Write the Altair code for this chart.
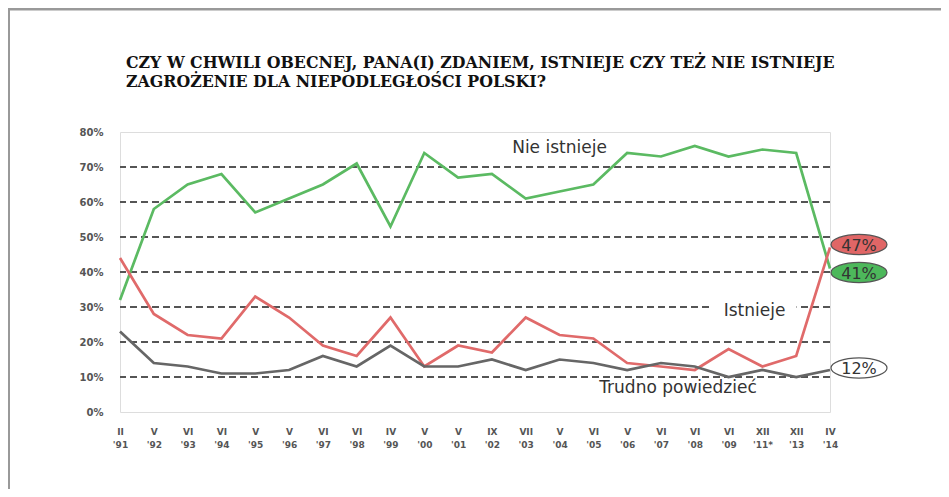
import altair as alt
import pandas as pd

months = ["II", "V", "VI", "VI", "V", "V", "VI", "VI", "IV", "V", "V", "IX",
          "VII", "V", "VI", "V", "VI", "VI", "VI", "XII", "XII", "IV"]
years = ["'91", "'92", "'93", "'94", "'95", "'96", "'97", "'98", "'99", "'00", "'01", "'02",
         "'03", "'04", "'05", "'06", "'07", "'08", "'09", "'11*", "'13", "'14"]

nie_istnieje = [32, 58, 65, 68, 57, 61, 65, 71, 53, 74, 67, 68, 61, 63, 65, 74, 73, 76, 73, 75, 74, 41]
istnieje = [44, 28, 22, 21, 33, 27, 19, 16, 27, 13, 19, 17, 27, 22, 21, 14, 13, 12, 18, 13, 16, 47]
trudno = [23, 14, 13, 11, 11, 12, 16, 13, 19, 13, 13, 15, 12, 15, 14, 12, 14, 13, 10, 12, 10, 12]

series_names = ["Nie istnieje", "Istnieje", "Trudno powiedzieć"]
series_colors = ["#5BBA62", "#E06A6A", "#666666"]
ellipse_fills = ["#4DB85B", "#E06666", "#FFFFFF"]
end_labels = ["41%", "47%", "12%"]

gridlines = [10, 20, 30, 40, 50, 60, 70]
yticks = [0, 10, 20, 30, 40, 50, 60, 70, 80]

title_lines = ["CZY W CHWILI OBECNEJ, PANA(I) ZDANIEM, ISTNIEJE CZY TEŻ NIE ISTNIEJE",
               "ZAGROŻENIE DLA NIEPODLEGŁOŚCI POLSKI?"]

# annotations: text, anchor category index, value
ann_text = ["Nie istnieje", "Istnieje", "Trudno powiedzieć"]
ann_idx = [13, 18, 16]
ann_val = [75.5, 29, 7]
ann_dx = [0, 26, 17]

keys = [f"{m}|{y}" for m, y in zip(months, years)]
rows = []
for name, vals in zip(series_names, [nie_istnieje, istnieje, trudno]):
    for k, v in zip(keys, vals):
        rows.append({"k": k, "series": name, "v": v})
df = pd.DataFrame(rows)

x_enc = alt.X("k:N", sort=keys,
              scale=alt.Scale(type="point", padding=0),
              axis=alt.Axis(title=None, labelAngle=0, labelExpr="split(datum.label, '|')",
                            ticks=False, domain=False, grid=False, labelPadding=15,
                            labelFontSize=9, labelFontWeight="bold", labelColor="#555555",
                            labelLineHeight=13, labelFont="DejaVu Sans", labelOverlap=False))
y_enc = alt.Y("v:Q", scale=alt.Scale(domain=[0, 80], nice=False),
              axis=alt.Axis(title=None, values=yticks, labelExpr="datum.value + '%'",
                            ticks=False, domain=False, grid=False, labelPadding=17,
                            labelFontSize=10, labelFontWeight="bold", labelColor="#555555",
                            labelFont="DejaVu Sans", labelOverlap=False))

grid = alt.Chart(pd.DataFrame({"v": gridlines})).mark_rule(
    color="#555555", strokeWidth=1.8, strokeDash=[7, 4]
).encode(y=y_enc)

layers = [grid]

# white box behind "Istnieje"
box_path = "M-1,-0.26L1,-0.26L1,0.26L-1,0.26Z"
layers.append(
    alt.Chart(pd.DataFrame({"k": [keys[ann_idx[1]]], "v": [ann_val[1]]})).mark_point(
        shape=box_path, size=84 * 84, filled=True, fill="white", opacity=1,
        strokeWidth=0, xOffset=ann_dx[1]
    ).encode(x=x_enc, y=y_enc)
)

for name, color in zip(series_names, series_colors):
    layers.append(
        alt.Chart(df[df.series == name]).mark_line(color=color, strokeWidth=2.7).encode(
            x=x_enc, y=y_enc
        )
    )

for t, i, v, dx in zip(ann_text, ann_idx, ann_val, ann_dx):
    layers.append(
        alt.Chart(pd.DataFrame({"k": [keys[i]], "v": [v], "t": [t]})).mark_text(
            font="DejaVu Sans", fontSize=17, color="#333333", dx=dx
        ).encode(x=x_enc, y=y_enc, text="t:N")
    )

ell_path = "M-1,0A1,0.36 0 1,0 1,0A1,0.36 0 1,0 -1,0Z"
end_offsets = [4, -3, -2]
for vals, fill, lab, off in zip([nie_istnieje, istnieje, trudno], ellipse_fills, end_labels, end_offsets):
    d = pd.DataFrame({"k": [keys[-1]], "v": [vals[-1]], "t": [lab]})
    layers.append(
        alt.Chart(d).mark_point(
            shape=ell_path, size=56 * 56, filled=True, fill=fill, opacity=1,
            stroke="#555555", strokeWidth=1.2, xOffset=29, yOffset=off
        ).encode(x=x_enc, y=y_enc)
    )
    layers.append(
        alt.Chart(d).mark_text(
            font="DejaVu Sans", fontSize=16, color="#333333", dx=29, dy=off + 1
        ).encode(x=x_enc, y=y_enc, text="t:N")
    )

# title (two lines)
for line, yy in zip(title_lines, [-64, -45]):
    layers.append(
        alt.Chart(pd.DataFrame({"t": [line]})).mark_text(
            font="DejaVu Serif", fontSize=15.8, fontWeight="bold", color="#111111",
            align="left", baseline="alphabetic"
        ).encode(x=alt.value(6), y=alt.value(yy), text="t:N")
    )

# outer picture frame (top and left edges)
layers.append(
    alt.Chart(pd.DataFrame({"a": [0]})).mark_rule(color="#999999", strokeWidth=3).encode(
        x=alt.value(-112), x2=alt.value(821), y=alt.value(-123)
    )
)
layers.append(
    alt.Chart(pd.DataFrame({"a": [0]})).mark_rule(color="#999999", strokeWidth=2).encode(
        x=alt.value(-111), y=alt.value(-124), y2=alt.value(357)
    )
)

chart = alt.layer(*layers).properties(
    width=710, height=280,
    autosize=alt.AutoSizeParams(type="none"),
    padding={"left": 112, "top": 124, "right": 111, "bottom": 77},
).configure_view(stroke="#666666", strokeWidth=2.5).configure(background="white")

chart.save("out.html", embed_options={"renderer": "svg", "actions": False})
